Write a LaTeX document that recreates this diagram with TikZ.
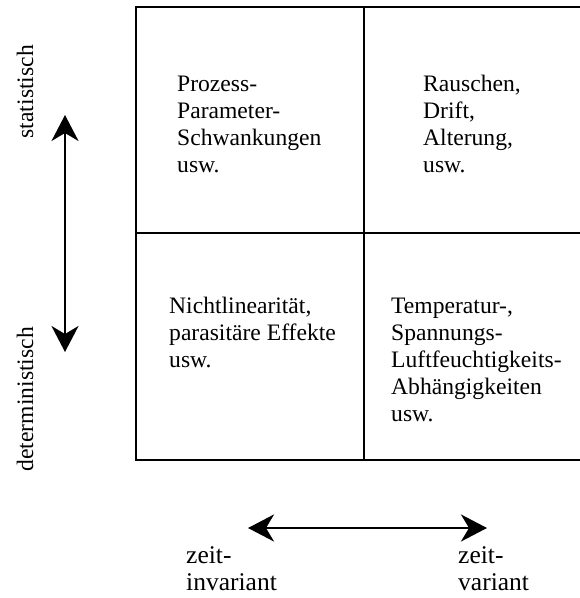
\documentclass[tikz,border=0pt]{standalone}
\usepackage{fontspec}
\setmainfont{Liberation Serif}
\usetikzlibrary{arrows.meta}

\tikzset{
  celltext/.style={anchor=base west, align=left, inner sep=0pt,
    font=\fontsize{23.6}{27}\selectfont},
  axislabel/.style={anchor=base east, rotate=90, inner sep=0pt,
    font=\fontsize{23.6}{27}\selectfont},
  endlabel/.style={anchor=base west, align=left, inner sep=0pt,
    font=\fontsize{25.5}{27}\selectfont},
  axisarrow/.style={line width=2.5pt,
    {Stealth[length=26pt,width=27pt,inset=8pt]}-{Stealth[length=26pt,width=27pt,inset=8pt]}}
}

\begin{document}
\begin{tikzpicture}[x=1pt, y=-1pt]
            \useasboundingbox (0,0) rectangle (580,598);
            % Raster
            \draw[line width=2.6pt] (136,7) rectangle (592,460);
            \draw[line width=2.6pt] (364,7) -- (364,460);
            \draw[line width=2.6pt] (136,233) -- (592,233);
            % Felder (Anker = Grundlinie der letzten Zeile)
            \node[celltext] (prozess) at (177,172) {Prozess-\\Parameter-\\Schwankungen\\usw.};
            \node[celltext] (rauschen) at (423,172) {Rauschen,\\Drift,\\Alterung,\\usw.};
            \node[celltext] (nichtlin) at (169,367) {Nichtlinearität,\\parasitäre Effekte\\usw.};
            \node[celltext] (temp) at (391,421) {Temperatur-,\\Spannungs-\\Luftfeuchtigkeits-\\Abhängigkeiten\\usw.};
            % senkrechte Achse
            \node[axislabel] (statist) at (33,45) {statistisch};
            \node[axislabel] (determ) at (33,327) {deterministisch};
            \coordinate (oben) at (65,115);
            \coordinate (unten) at (65,352);
            \draw[axisarrow] (oben) -- (unten);
            % waagerechte Achse
            \coordinate (links) at (248,528);
            \coordinate (rechts) at (487,528);
            \draw[axisarrow] (links) -- (rechts);
            \node[endlabel] (invar) at (186,590) {zeit-\\invariant};
            \node[endlabel] (var) at (458,590) {zeit-\\variant};
        \end{tikzpicture}
\end{document}
